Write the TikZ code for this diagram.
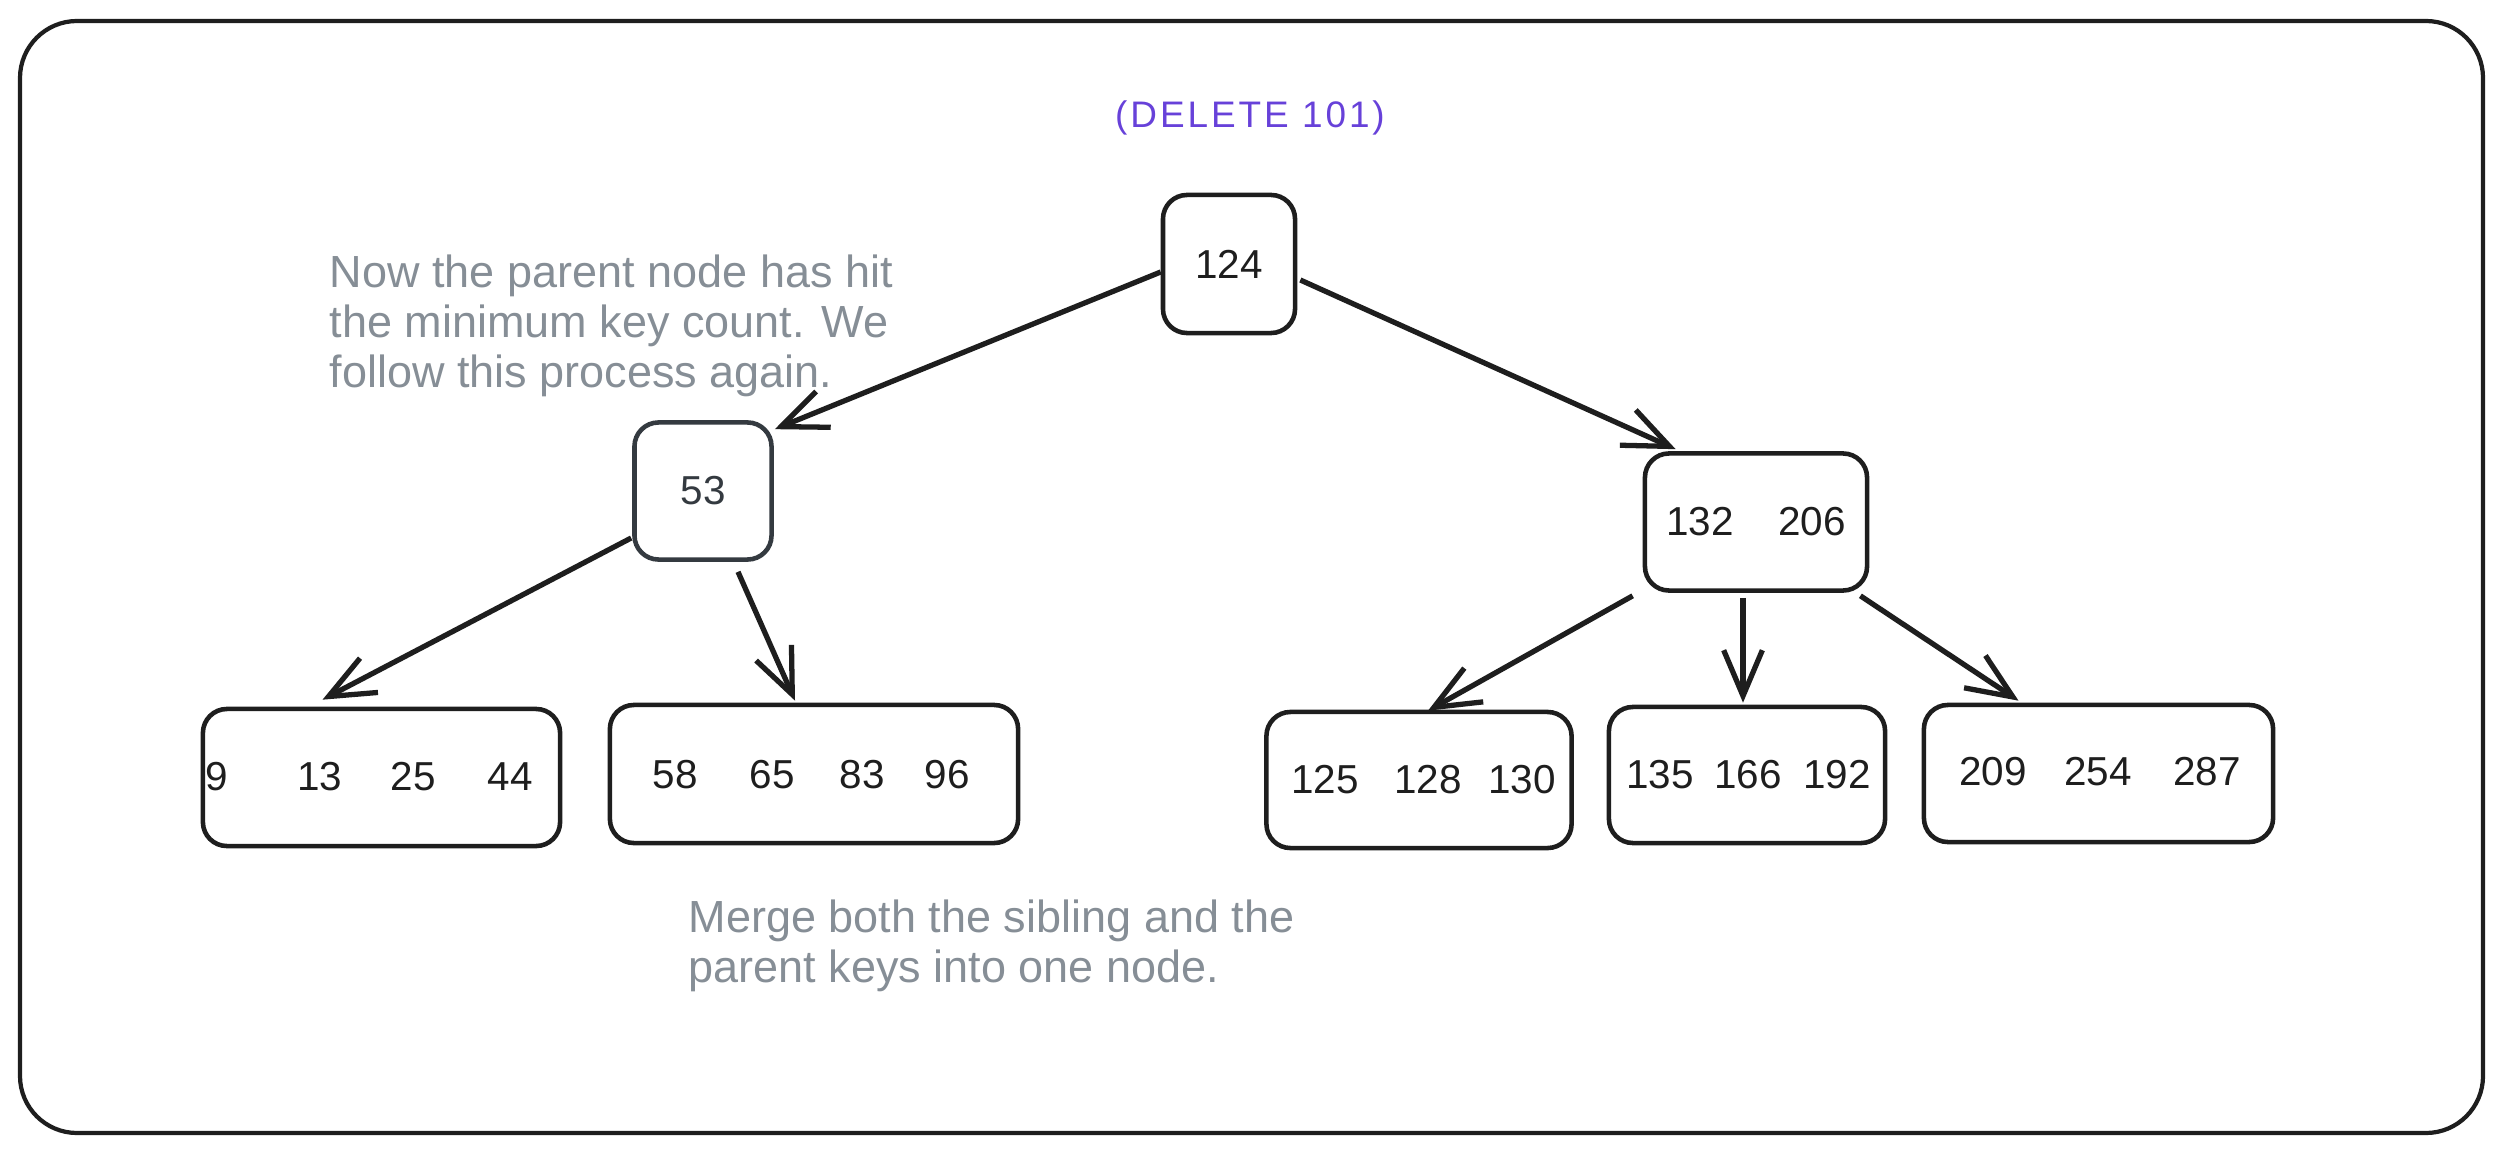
\documentclass[tikz,border=0pt]{standalone}
\usepackage{fontspec}
\setmainfont{Liberation Sans}
\newfontfamily\titlefont[LetterSpace=8]{Liberation Sans}
\usetikzlibrary{arrows.meta,calc}
\definecolor{ink}{HTML}{1E1E1E}
\definecolor{inktwo}{HTML}{343A40}
\definecolor{notegray}{HTML}{868E96}
\definecolor{violetink}{HTML}{6741D9}
\begin{document}
\begin{tikzpicture}[x=0.01cm,y=-0.01cm,
  box/.style={draw=ink,line width=1.3pt,rounded corners=0.24cm,inner sep=0pt,fill=white},
  num/.style={text=ink,font=\fontsize{11.5}{13}\selectfont,inner sep=0pt},
  arr/.style={draw=ink,line width=1.5pt,-{Straight Barb[length=13pt,width=11pt]}},
  notetext/.style={text=notegray,font=\fontsize{12.8}{14.2}\selectfont,align=left,inner sep=0pt,anchor=north west}]
\useasboundingbox (0,0) rectangle (2503,1152);
\draw[ink,line width=1.2pt,rounded corners=0.57cm] (20,21) rectangle (2483,1133);

\node[text=violetink,font=\titlefont\fontsize{10.5}{12}\selectfont] (title) at (1250,118) {(DELETE 101)};

% tree nodes
\node[box,minimum width=1.32cm,minimum height=1.38cm,num] (root) at (1229,264) {124};
\node[box,draw=inktwo,minimum width=1.37cm,minimum height=1.37cm,num,text=inktwo] (n53) at (703,491) {53};
\node[box,minimum width=2.22cm,minimum height=1.37cm] (n132) at (1756,522) {};
\node[box,minimum width=3.57cm,minimum height=1.37cm] (L1) at (381.5,777.5) {};
\node[box,minimum width=4.08cm,minimum height=1.38cm] (L2) at (814,774) {};
\node[box,minimum width=3.05cm,minimum height=1.36cm] (L3) at (1419,780) {};
\node[box,minimum width=2.76cm,minimum height=1.36cm] (L4) at (1747,775) {};
\node[box,minimum width=3.49cm,minimum height=1.37cm] (L5) at (2098.5,773.5) {};

% keys
\node[num] (k132) at (1700,522) {132};
\node[num] (k206) at (1812,522) {206};
\node[num] (k9) at (217,777) {9};
\node[num] (k13) at (320,777) {13};
\node[num] (k25) at (413,777) {25};
\node[num] (k44) at (510,777) {44};
\node[num] (k58) at (675,775) {58};
\node[num] (k65) at (772,775) {65};
\node[num] (k83) at (862,775) {83};
\node[num] (k96) at (947,775) {96};
\node[num] (k125) at (1325,780) {125};
\node[num] (k128) at (1428,780) {128};
\node[num] (k130) at (1522,780) {130};
\node[num] (k135) at (1660,775) {135};
\node[num] (k166) at (1748,775) {166};
\node[num] (k192) at (1837,775) {192};
\node[num] (k209) at (1993,772) {209};
\node[num] (k254) at (2098,772) {254};
\node[num] (k287) at (2207,772) {287};

% connectors
\draw[arr] ($(root.west)+(0,8)$) -- ($(n53.north east)+(1,9)$);
\draw[arr] ($(root.east)+(3,16)$) -- ($(n132.north west)+(33,-2)$);
\draw[arr] ($(n53.west)+(-1,47)$) -- ($(L1.north)+(-59,-7)$);
\draw[arr] ($(n53.south)+(35,10)$) -- ($(L2.north)+(-19,-2)$);
\draw[arr] ($(n132.south west)+(-10,3)$) -- ($(L3.north)+(9,1)$);
\draw[arr] ($(n132.south)+(-13,5)$) -- ($(L4.north)+(-4,-2)$);
\draw[arr] ($(n132.south east)+(-9,3)$) -- ($(L5.north)+(-80,-2)$);

% notes
\node[notetext] (note1) at (329,254) {Now the parent node has hit\\the minimum key count. We\\follow this process again.};
\node[notetext] (note2) at (688,899) {Merge both the sibling and the\\parent keys into one node.};
\end{tikzpicture}
\end{document}
